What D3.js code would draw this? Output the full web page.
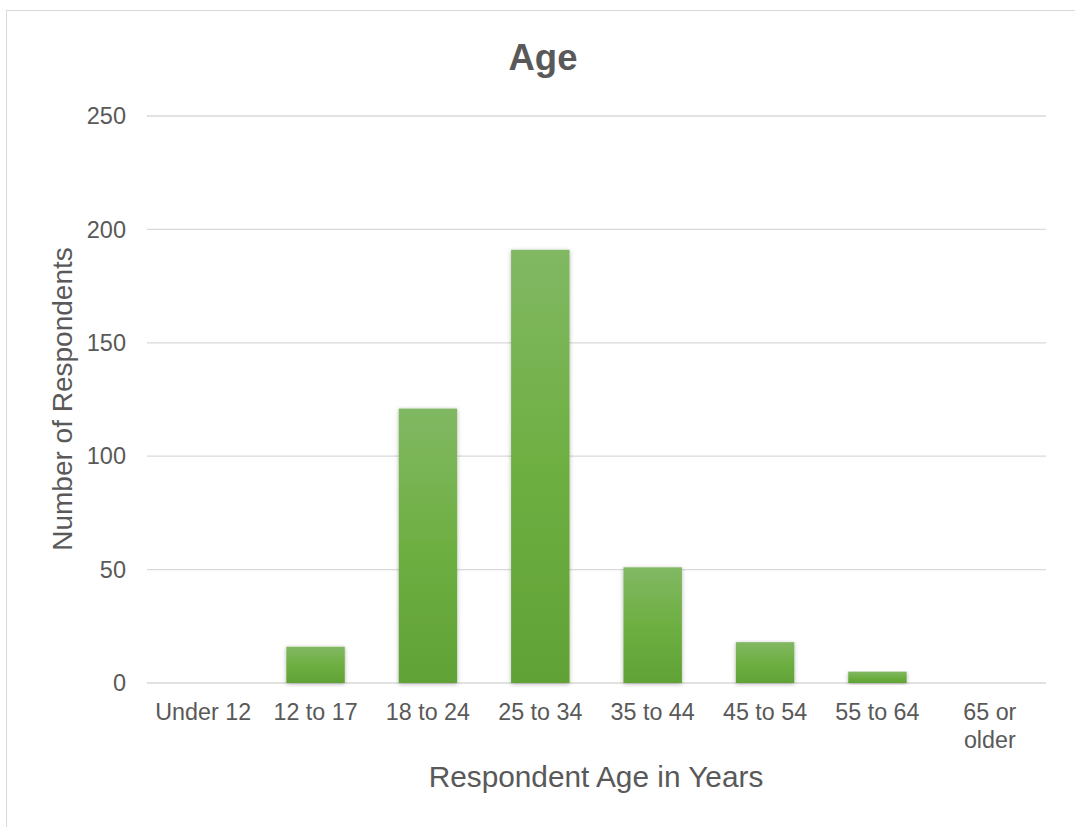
<!DOCTYPE html>
<html><head><meta charset="utf-8">
<script src="https://cdn.jsdelivr.net/npm/d3@7"></script>
<style>body{margin:0;background:#fff;font-family:"Liberation Sans",Arial,sans-serif;}</style>
</head><body>
<svg id="c" width="1075" height="827"></svg>
<script>
const categories = ["Under 12","12 to 17","18 to 24","25 to 34","35 to 44","45 to 54","55 to 64","65 or older"];
const values = [0,16,121,191,51,18,5,0];
const yTicks = [0,50,100,150,200,250];

const svg = d3.select("#c");
const m = {left:147, right:1046, top:116, bottom:683};
const textColor = "#595959";

svg.append("rect").attr("x",6.5).attr("y",10.5).attr("width",1075).attr("height",830)
  .attr("fill","#fff").attr("stroke","#d9d9d9").attr("stroke-width",1);

const defs = svg.append("defs");
const g = defs.append("linearGradient").attr("id","bg").attr("x1",0).attr("y1",0).attr("x2",0).attr("y2",1);
g.append("stop").attr("offset","0%").attr("stop-color","#81b863");
g.append("stop").attr("offset","50%").attr("stop-color","#6eaf42");
g.append("stop").attr("offset","100%").attr("stop-color","#61a236");
const f = defs.append("filter").attr("id","sh").attr("x","-20%").attr("y","-5%").attr("width","140%").attr("height","115%");
f.append("feDropShadow").attr("dx",0).attr("dy",1).attr("stdDeviation",2).attr("flood-color","#000").attr("flood-opacity",0.3);

const x = d3.scaleBand().domain(categories).range([m.left,m.right]).paddingInner(0.48).paddingOuter(0.24);
const y = d3.scaleLinear().domain([0,250]).range([m.bottom,m.top]);

// gridlines
svg.append("g").selectAll("line").data(yTicks).join("line")
  .attr("x1",m.left).attr("x2",m.right).attr("y1",d=>y(d)).attr("y2",d=>y(d))
  .attr("stroke","#d9d9d9").attr("stroke-width",1.3);

// y tick labels
svg.append("g").selectAll("text").data(yTicks).join("text")
  .attr("x",126).attr("y",d=>y(d)).attr("dy","0.35em").attr("text-anchor","end")
  .attr("font-size",23.5).attr("fill",textColor).text(d=>d);

// bars
svg.append("g").selectAll("rect").data(values).join("rect")
  .attr("x",(d,i)=>x(categories[i])).attr("width",x.bandwidth())
  .attr("y",d=>y(d)).attr("height",d=>Math.max(0,y(0)-y(d)))
  .attr("fill","url(#bg)").attr("filter","url(#sh)");

// x labels
const xl = svg.append("g").selectAll("text").data(categories).join("text")
  .attr("x",d=>x(d)+x.bandwidth()/2).attr("y",720).attr("text-anchor","middle")
  .attr("font-size",23.3).attr("fill",textColor);
xl.each(function(d){
  const t = d3.select(this);
  const parts = d==="65 or older" ? ["65 or","older"] : [d];
  parts.forEach((p,i)=>t.append("tspan").attr("x",x(d)+x.bandwidth()/2).attr("dy",i?"1.2em":0).text(p));
});

// title
svg.append("text").attr("x",543).attr("y",70).attr("text-anchor","middle")
  .attr("font-size",36.5).attr("font-weight","bold").attr("fill",textColor).text("Age");

// axis titles
svg.append("text").attr("x",596).attr("y",787).attr("text-anchor","middle")
  .attr("font-size",29.8).attr("fill",textColor).text("Respondent Age in Years");
svg.append("text").attr("transform","translate(72,399) rotate(-90)").attr("text-anchor","middle")
  .attr("font-size",28).attr("fill",textColor).text("Number of Respondents");
</script>
</body></html>
